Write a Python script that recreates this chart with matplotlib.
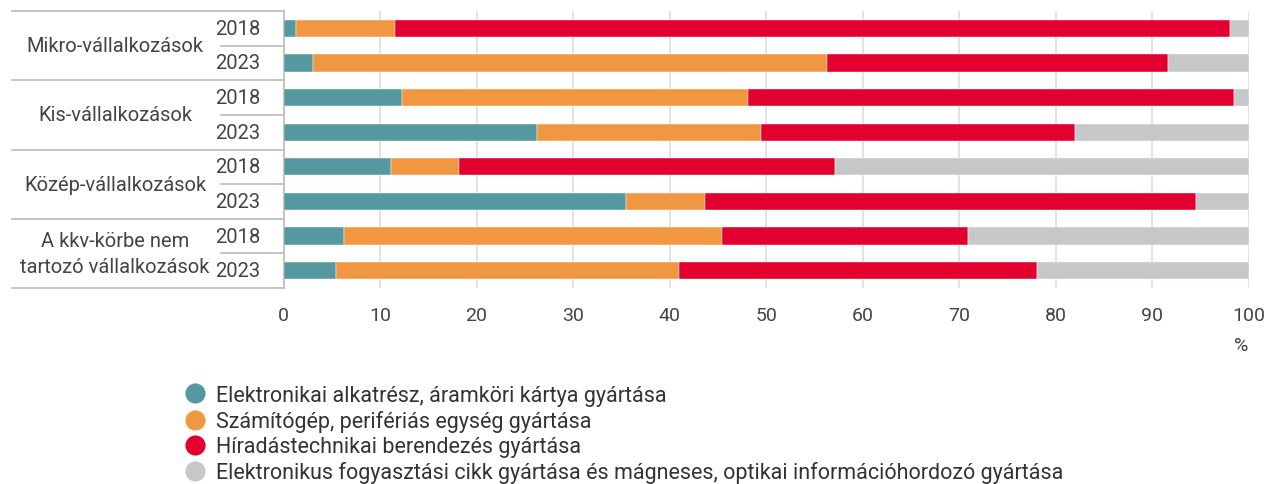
import numpy as np
import matplotlib
matplotlib.use("Agg")
import matplotlib.pyplot as plt
from matplotlib.lines import Line2D
from matplotlib import transforms

plt.rcParams['font.family'] = ['Roboto', 'DejaVu Sans']

groups = ['Mikro-vállalkozások', 'Kis-vállalkozások', 'Közép-vállalkozások',
          'A kkv-körbe nem\ntartozó vállalkozások']
years = ['2018', '2023']

series = ['Elektronikai alkatrész, áramköri kártya gyártása',
          'Számítógép, perifériás egység gyártása',
          'Híradástechnikai berendezés gyártása',
          'Elektronikus fogyasztási cikk gyártása és mágneses, optikai információhordozó gyártása']
colors = ['#55989f', '#f29741', '#e1002f', '#c6c7c8']

# rows: Mikro 2018, Mikro 2023, Kis 2018, Kis 2023, Közép 2018, Közép 2023, nem kkv 2018, nem kkv 2023
elektronikai = [1.3, 3.1, 12.3, 26.3, 11.1, 35.5, 6.3, 5.4]
szamitogep = [10.2, 53.2, 35.8, 23.2, 7.1, 8.2, 39.1, 35.6]
hiradas = [86.5, 35.3, 50.3, 32.5, 38.9, 50.8, 25.5, 37.0]
fogyasztasi = [2.0, 8.4, 1.6, 18.0, 42.9, 5.5, 29.1, 22.0]

W, H = 1267, 485
fig = plt.figure(figsize=(W / 100, H / 100), dpi=100)
ax = fig.add_axes([283.5 / W, 1 - 289 / H, (1249 - 283.5) / W, (289 - 12) / H])

data = [elektronikai, szamitogep, hiradas, fogyasztasi]
y = np.arange(8)
left = np.zeros(8)
for vals, c, name in zip(data, colors, series):
    ax.barh(y, vals, left=left, height=0.5, color=c, label=name, zorder=3,
            edgecolor='white', linewidth=0.3)
    left += np.array(vals)

ax.set_xlim(0, 100)
ax.set_ylim(7.5, -0.5)
ax.set_xticks(range(0, 101, 10))
ax.tick_params(axis='x', length=0, labelsize=14, labelcolor='#444444', pad=13)
ax.set_yticks([])
ax.grid(axis='x', color='#dddddd', linewidth=1.2, zorder=0)
for s in ['top', 'bottom', 'right']:
    ax.spines[s].set_visible(False)
ax.spines['left'].set_color('#bbbbbb')
ax.spines['left'].set_linewidth(1.2)
ax.text(1241 / W, 1 - 346 / H, '%', transform=fig.transFigure, ha='center', va='center',
        fontsize=14, color='#444444')

# left table with group and year labels
tr = transforms.blended_transform_factory(fig.transFigure, ax.transData)
for i, g in enumerate(groups):
    top = 2 * i - 0.5
    ax.add_line(Line2D([12 / W, 283.5 / W], [top, top], transform=tr, color='#bbbbbb',
                       lw=1.2, clip_on=False))
    ax.add_line(Line2D([221 / W, 283.5 / W], [top + 1, top + 1], transform=tr, color='#bbbbbb',
                       lw=1.2, clip_on=False))
    ax.text(115 / W, top + 1, g, transform=tr, ha='center', va='center', fontsize=14.5,
            color='#444444', linespacing=1.45)
    for j, yr in enumerate(years):
        ax.text(238 / W, top + 0.5 + j, yr, transform=tr, ha='center', va='center',
                fontsize=14.5, color='#444444')
ax.add_line(Line2D([12 / W, 283.5 / W], [7.5, 7.5], transform=tr, color='#bbbbbb',
                   lw=1.2, clip_on=False))

handles = [Line2D([], [], marker='o', linestyle='', markersize=13.5, markerfacecolor=c,
                  markeredgecolor=c) for c in colors]
fig.legend(handles, series, loc='upper left', bbox_to_anchor=(186 / W, 1 - 386 / H),
           frameon=False, fontsize=15.5, handletextpad=0.55, labelspacing=0.19,
           borderpad=0, borderaxespad=0, handlelength=0.85, labelcolor='#333333')

fig.savefig('out.png', dpi=100)
